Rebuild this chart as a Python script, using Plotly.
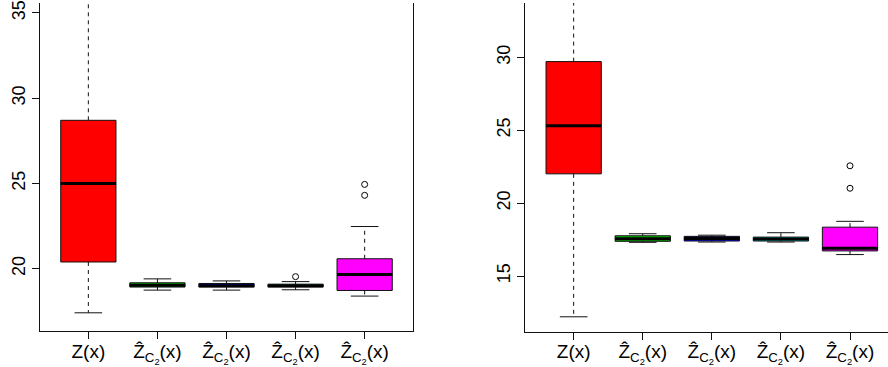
import plotly.graph_objects as go

# Category labels (shared by both panels)
labels = ["Z(x)", "Ẑ<sub>C<sub>2</sub></sub>(x)", "Ẑ<sub>C<sub>2</sub></sub>(x)",
          "Ẑ<sub>C<sub>2</sub></sub>(x)", "Ẑ<sub>C<sub>2</sub></sub>(x)"]
positions = [1, 2, 3, 4, 5]
fill_colors = ["#FF0000", "#00C000", "#0000FF", "#00E5E5", "#FF00FF"]

# Left panel: five-number summaries, outliers and y ticks
left_lo = [17.41, 18.74, 18.74, 18.76, 18.39]
left_q1 = [20.39, 18.92, 18.92, 18.92, 18.72]
left_med = [25.00, 19.03, 19.00, 18.99, 19.65]
left_q3 = [28.70, 19.17, 19.13, 19.09, 20.58]
left_hi = [40.50, 19.40, 19.28, 19.24, 22.47]
left_out = [[], [], [], [19.53], [24.94, 24.30]]
left_yticks = [20, 25, 30, 35]

# Right panel: five-number summaries, outliers and y ticks
right_lo = [12.20, 17.31, 17.33, 17.33, 16.47]
right_q1 = [22.01, 17.38, 17.40, 17.40, 16.72]
right_med = [25.30, 17.55, 17.58, 17.53, 16.90]
right_q3 = [29.71, 17.76, 17.72, 17.67, 18.35]
right_hi = [39.00, 17.90, 17.80, 17.97, 18.75]
right_out = [[], [], [], [], [22.56, 21.02]]
right_yticks = [15, 20, 25, 30]

BOX_W = 0.8      # box width in category units
CAP_W = 0.4      # whisker cap width
LINE = "#111111"

fig = go.Figure()


def add_panel(xa, ya, lo, q1, med, q3, hi, outs):
    wx, wy, cx, cy, mx, my, ox, oy = [], [], [], [], [], [], [], []
    for i, p in enumerate(positions):
        # box body (whiskers collapsed; drawn separately in R style)
        fig.add_trace(go.Box(
            x=[p], q1=[q1[i]], median=[med[i]], q3=[q3[i]],
            lowerfence=[q1[i]], upperfence=[q3[i]],
            width=BOX_W, whiskerwidth=0, boxpoints=False,
            fillcolor=fill_colors[i], line=dict(color=LINE, width=1),
            xaxis=xa, yaxis=ya, showlegend=False, hoverinfo="skip",
        ))
        # dashed whiskers
        wx += [p, p, None, p, p, None]
        wy += [q3[i], hi[i], None, q1[i], lo[i], None]
        # caps
        cx += [p - CAP_W / 2, p + CAP_W / 2, None, p - CAP_W / 2, p + CAP_W / 2, None]
        cy += [hi[i], hi[i], None, lo[i], lo[i], None]
        # thick median
        mx += [p - BOX_W / 2, p + BOX_W / 2, None]
        my += [med[i], med[i], None]
        for v in outs[i]:
            ox.append(p)
            oy.append(v)
    fig.add_trace(go.Scatter(x=wx, y=wy, mode="lines", xaxis=xa, yaxis=ya,
                             line=dict(color=LINE, width=1, dash="4px,4px"),
                             showlegend=False, hoverinfo="skip"))
    fig.add_trace(go.Scatter(x=cx, y=cy, mode="lines", xaxis=xa, yaxis=ya,
                             line=dict(color=LINE, width=1),
                             showlegend=False, hoverinfo="skip"))
    fig.add_trace(go.Scatter(x=mx, y=my, mode="lines", xaxis=xa, yaxis=ya,
                             line=dict(color="#000000", width=3),
                             showlegend=False, hoverinfo="skip"))
    fig.add_trace(go.Scatter(x=ox, y=oy, mode="markers", xaxis=xa, yaxis=ya,
                             marker=dict(symbol="circle-open", size=6,
                                         color="#000000", line=dict(width=1)),
                             showlegend=False, hoverinfo="skip"))


add_panel("x", "y", left_lo, left_q1, left_med, left_q3, left_hi, left_out)
add_panel("x2", "y2", right_lo, right_q1, right_med, right_q3, right_hi, right_out)

font_family = "Liberation Sans, Arial, sans-serif"
xcommon = dict(
    tickmode="array", tickvals=positions, ticktext=labels,
    showline=True, linecolor=LINE, linewidth=1, mirror=False,
    ticks="outside", ticklen=7, tickcolor=LINE, tickwidth=1,
    showgrid=False, zeroline=False, ticklabelstandoff=-4,
    tickfont=dict(family=font_family, size=19, color="#000000"),
)
ycommon = dict(
    tickmode="array",
    showline=True, linecolor=LINE, linewidth=1,
    ticks="outside", ticklen=7, tickcolor=LINE, tickwidth=1,
    showgrid=False, zeroline=False, tickangle=-90,
    tickfont=dict(family=font_family, size=18, color="#000000"),
)

fig.update_layout(
    width=888, height=367,
    margin=dict(l=0, r=0, t=0, b=0),
    paper_bgcolor="white", plot_bgcolor="white",
    showlegend=False,
    xaxis=dict(domain=[40 / 888, 413 / 888], range=[0.3, 5.7], anchor="y", **xcommon),
    yaxis=dict(domain=[35 / 367, 1], range=[16.32, 35.58], anchor="x", mirror=True,
               tickvals=left_yticks, ticklabeloverflow="allow", **ycommon),
    xaxis2=dict(domain=[525.3 / 888, 1], range=[0.3, 5.55], anchor="y2", **xcommon),
    yaxis2=dict(domain=[34.7 / 367, 1], range=[11.18, 33.73], anchor="x2", mirror=False,
                tickvals=right_yticks, **ycommon),
)

fig.write_html("out.html")
